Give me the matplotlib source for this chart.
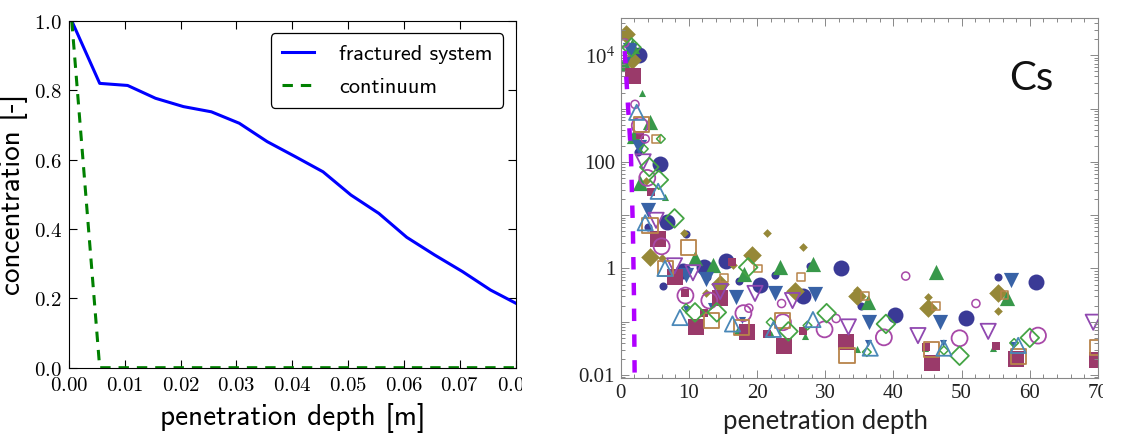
import numpy as np
import matplotlib
matplotlib.use('Agg')
import matplotlib.pyplot as plt
from matplotlib.transforms import Bbox, TransformedBbox

plt.rcParams['mathtext.fontset'] = 'stix'

# left: simulated profiles
depth = [0.0005, 0.0055, 0.0105, 0.0155, 0.0205, 0.0255, 0.0305, 0.0355, 0.0405,
         0.0455, 0.0505, 0.0555, 0.0605, 0.0655, 0.0705, 0.0755, 0.0805]
frac = [1.0, 0.82, 0.814, 0.777, 0.753, 0.738, 0.705, 0.652, 0.609,
        0.565, 0.498, 0.445, 0.376, 0.325, 0.277, 0.224, 0.182]
cont = [1.0, 0.0, 0.0, 0.0, 0.0, 0.0, 0.0, 0.0, 0.0,
        0.0, 0.0, 0.0, 0.0, 0.0, 0.0, 0.0, 0.0]

# right: measured Cs profiles
circ_x = [2.7, 5.8, 6.8, 9.2, 12.2, 15.4, 20.5, 26.7, 32.3, 40.3, 50.6, 60.9]
circ_y = [1.0e4, 90, 7.5, 0.9, 1.05, 1.4, 0.49, 0.3, 1.0, 0.135, 0.12, 0.55]
circ_sx = [2.6, 4.0, 9.6, 6.25, 12.7, 17.4, 22.6, 27.8, 35.3, 45.2, 55.4, 1.4]
circ_sy = [150, 6, 4.4, 0.47, 0.68, 0.59, 0.75, 1.12, 0.195, 0.19, 0.69, 1.2e4]

dia_x = [0.73, 1.6, 4.3, 19.3, 25.5, 34.7, 45.0, 55.3, 14.6]
dia_y = [2.5e4, 8e3, 1.66, 1.78, 0.38, 0.3, 0.18, 0.35, 0.51]
dia_sx = [21.5, 26.7, 9.3, 16.5, 12.5, 34.6, 45.1, 55.4, 3.7, 6.0, 2.3]
dia_sy = [4.7, 2.5, 4.6, 1.17, 0.35, 0.4, 0.29, 0.16, 44, 1.6, 290]

tri_x = [1.7, 1.9, 4.3, 2.8, 10.9, 13.5, 23.3, 28.2, 46.2, 56.7, 18.1, 36.2, 0.5]
tri_y = [1.5e4, 310, 550, 40, 1.6, 1.15, 1.05, 1.2, 0.87, 0.275, 0.8, 0.23, 7e3]
tri_sx = [3.2, 6.5, 17.0, 22.0, 27.1, 34.7, 44.6, 54.6]
tri_sy = [2000, 22, 0.068, 0.059, 0.055, 0.031, 0.032, 0.032]

tdn_x = [1.4, 2.7, 4.0, 9.6, 12.5, 16.9, 22.6, 28.5, 36.4, 46.8, 57.3]
tdn_y = [1.26e4, 186, 12.6, 0.76, 0.63, 0.29, 0.35, 0.33, 0.1, 0.1, 0.6]
tdn_sx = [9.6, 17.8, 13.3, 36.3, 47.2, 57.5, 1.0]
tdn_sy = [0.17, 0.11, 0.2, 0.04, 0.04, 0.036, 8e3]

sq_x = [1.85, 5.5, 7.9, 11.1, 14.6, 18.6, 23.9, 33.1, 45.6, 58.0, 69.9]
sq_y = [4000, 3.5, 0.68, 0.079, 0.275, 0.063, 0.035, 0.041, 0.017, 0.02, 0.019]
sq_sx = [4.4, 2.8, 9.4, 12.2, 16.4, 21.5, 26.8, 55.1, 44.8]
sq_sy = [27, 316, 0.35, 0.145, 1.3, 0.06, 0.066, 0.035, 0.033]

ocirc_x = [3.9, 6.0, 9.5, 18.0, 23.8, 29.9, 38.6, 49.7, 61.2, 2.8, 13.0]
ocirc_y = [50, 2.6, 0.31, 0.145, 0.098, 0.072, 0.051, 0.049, 0.055, 480, 0.25]
ocirc_sx = [2.1, 0.6, 3.6, 23.6, 31.6, 41.8, 52.1, 18.8]
ocirc_sy = [1200, 1.7e4, 270, 0.22, 0.115, 0.72, 0.22, 0.18]

otdn_x = [3.3, 5.2, 7.9, 10.6, 19.7, 25.2, 33.4, 43.6, 53.9, 69.3, 14.6]
otdn_y = [100, 8, 1.12, 0.83, 0.34, 0.25, 0.08, 0.055, 0.066, 0.098, 0.37]

osq_x = [3.1, 4.3, 9.9, 6.6, 13.3, 17.7, 23.7, 33.2, 45.6, 58.3, 70.0]
osq_y = [500, 6.3, 2.5, 1.0, 0.105, 0.078, 0.105, 0.023, 0.03, 0.022, 0.033]
osq_sx = [5.2, 15.1, 20.1, 26.5, 35.8, 46.2, 56.3]
osq_sy = [270, 0.66, 1.0, 0.7, 0.3, 0.2, 0.32]

odia_x = [1.6, 4.2, 5.6, 7.9, 10.9, 14.1, 18.7, 24.6, 30.2, 38.9, 49.7, 60.0]
odia_y = [1.4e4, 80, 46, 8.7, 0.15, 0.15, 1.05, 0.066, 0.145, 0.091, 0.023, 0.05]
odia_sx = [5.9, 3.4, 9.6, 22.0, 27.4, 36.1, 47.4, 57.7]
odia_sy = [270, 175, 0.18, 0.098, 0.085, 0.027, 0.029, 0.04]

otri_x = [2.35, 5.5, 3.6, 6.5, 8.7, 16.4, 22.4, 28.2, 36.6, 47.4, 58.3]
otri_y = [850, 28, 7.2, 1.0, 0.12, 0.091, 0.072, 0.11, 0.032, 0.032, 0.036]

model_x = [0.6, 1.1, 1.5, 1.8, 1.95, 2.05, 2.1]
model_y = [1.2e4, 1e3, 150, 5, 0.3, 0.01, 0.005]

fig = plt.figure(figsize=(11.33, 4.36), dpi=100)

# ---- left panel
ax1 = fig.add_axes([0.0609, 0.1567, 0.3942, 0.7952])
ax1.plot(depth, frac, '-', color='#0000ff', lw=2.2, label='fractured system')
ax1.plot(depth, cont, '--', color='#008000', lw=2.2, dashes=(3.4, 2.6), label='continuum')
ax1.set_xlim(0, 0.08)
ax1.set_ylim(0, 1)
ax1.set_xticks(np.arange(0, 0.081, 0.01))
ax1.set_yticks(np.arange(0, 1.01, 0.2))
ax1.set_xticklabels(['$%.2f$' % v for v in np.arange(0, 0.081, 0.01)])
ax1.set_yticklabels(['$%.1f$' % v for v in np.arange(0, 1.01, 0.2)])
ax1.tick_params(direction='in', top=True, right=True, length=6, width=0.8, pad=5, labelsize=15)
ax1.set_xlabel('penetration depth [m]', family='cmss10', fontsize=21, labelpad=6)
ax1.set_ylabel('concentration [-]', family='cmss10', fontsize=21, labelpad=4)
leg = ax1.legend(loc='upper right', prop={'family': 'cmss10', 'size': 16}, fancybox=True,
                 handlelength=1.45, handletextpad=1.1, borderpad=0.5, labelspacing=0.6,
                 borderaxespad=0.55, framealpha=1)
leg.get_frame().set_edgecolor('black')
leg.get_frame().set_linewidth(0.9)

# ---- right panel
ax2 = fig.add_axes([0.5478, 0.133, 0.4213, 0.8257])
ax2.set_yscale('log')
big = 120
small = 26
dsz = 0.75  # matplotlib diamonds come out larger than the other shapes
ax2.scatter(circ_x, circ_y, s=big * 1.1, marker='o', color='#3a3a96', lw=0)
ax2.scatter(circ_sx, circ_sy, s=small * 1.3, marker='o', color='#3a3a96', lw=0)
ax2.scatter(dia_x, dia_y, s=big * dsz, marker='D', color='#968838', lw=0)
ax2.scatter(dia_sx, dia_sy, s=small * dsz, marker='D', color='#968838', lw=0)
ax2.scatter(tri_x, tri_y, s=big, marker='^', color='#38984a', lw=0)
ax2.scatter(tri_sx, tri_sy, s=small, marker='^', color='#38984a', lw=0)
ax2.scatter(tdn_x, tdn_y, s=big, marker='v', color='#3862a6', lw=0)
ax2.scatter(tdn_sx, tdn_sy, s=small, marker='v', color='#3862a6', lw=0)
ax2.scatter(sq_x, sq_y, s=big, marker='s', color='#9a3a6a', lw=0)
ax2.scatter(sq_sx, sq_sy, s=small * 1.2, marker='s', color='#9a3a6a', lw=0)
ax2.scatter(ocirc_x, ocirc_y, s=big * 1.1, marker='o', facecolors='none', edgecolors='#a848a8', lw=1.3)
ax2.scatter(ocirc_sx, ocirc_sy, s=small * 1.3, marker='o', facecolors='none', edgecolors='#a848a8', lw=1.1)
ax2.scatter(otdn_x, otdn_y, s=big, marker='v', facecolors='none', edgecolors='#9048b0', lw=1.3)
ax2.scatter(osq_x, osq_y, s=big, marker='s', facecolors='none', edgecolors='#b8844a', lw=1.3)
ax2.scatter(osq_sx, osq_sy, s=small * 1.2, marker='s', facecolors='none', edgecolors='#b8844a', lw=1.1)
ax2.scatter(odia_x, odia_y, s=big * dsz, marker='D', facecolors='none', edgecolors='#44a444', lw=1.3)
ax2.scatter(odia_sx, odia_sy, s=small * dsz, marker='D', facecolors='none', edgecolors='#44a444', lw=1.1)
ax2.scatter(otri_x, otri_y, s=big, marker='^', facecolors='none', edgecolors='#4a88b8', lw=1.3)
ax2.plot(model_x, model_y, color='#b000ff', lw=3.2, dashes=(2.8, 3.0), zorder=5)
ax2.set_xlim(0, 70)
ax2.set_xticks(np.arange(0, 71, 10))
ax2.set_xticks(np.arange(0, 71, 2), minor=True)
decades = [1e-2, 1e-1, 1, 10, 100, 1e3, 1e4]
ax2.set_yticks(decades)
ax2.set_yticklabels(['0.01', '', '1', '', '100', '', '10$^4$'])
ax2.set_yticks([m * d for d in [1e-3] + decades for m in range(2, 10)], minor=True)
ax2.set_ylim(0.0088, 5e4)
ax2.tick_params(which='both', direction='in', top=True, right=True, color='#888888', width=0.7)
ax2.tick_params(which='major', length=6, pad=4)
ax2.tick_params(which='minor', length=3)
ax2.tick_params(labelsize=15, labelcolor='#222222')
for sp in ax2.spines.values():
    sp.set_color('#888888')
    sp.set_linewidth(0.8)
ax2.set_xlabel('penetration depth', family='Lato', fontsize=18.5, color='#222222', labelpad=3)
ax2.xaxis.set_label_coords(0.43, -0.085)
ax2.text(0.86, 0.833, 'Cs', transform=ax2.transAxes, family='Lato', fontsize=29,
         ha='center', va='center', color='#111111')

# fix tick label fonts and edge clipping once the ticks exist
fig.canvas.draw()
clip = TransformedBbox(Bbox([[0, 0], [522 / 1133, 1]]), fig.transFigure)
clip2 = TransformedBbox(Bbox([[0, 0], [1103 / 1133, 1]]), fig.transFigure)
for t in ax1.xaxis.get_major_ticks() + ax1.yaxis.get_major_ticks():
    t.label1.set_math_fontfamily('cm')
    t.label1.set_clip_box(clip)
    t.label1.set_clip_on(True)
for t in ax2.xaxis.get_major_ticks() + ax2.yaxis.get_major_ticks():
    t.label1.set_family('Liberation Serif')
    t.label1.set_clip_box(clip2)
    t.label1.set_clip_on(True)

fig.savefig('out.png', dpi=100)
